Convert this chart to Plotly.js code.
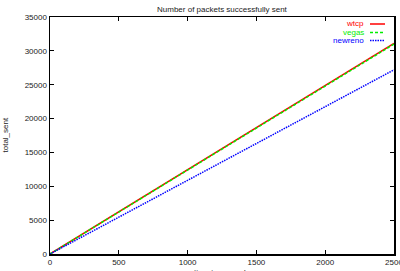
<!DOCTYPE html>
<html>
<head>
<meta charset="utf-8">
<script src="https://cdn.plot.ly/plotly-3.0.1.min.js"></script>
<style>html,body{margin:0;padding:0;background:#fff;}#chart{width:400px;height:271px;}</style>
</head>
<body>
<div id="chart"></div>
<script>
const timeSec = [0, 500, 1000, 1500, 2000, 2500];
const wtcp = [0, 6220, 12440, 18660, 24880, 31100];
const vegas = [0, 6200, 12400, 18600, 24800, 31000];
const newreno = [0, 5440, 10880, 16320, 21760, 27200];
const seriesNames = ['wtcp', 'vegas', 'newreno'];
const seriesColors = ['#ff0000', '#00ee00', '#0000ff'];
const seriesDash = ['solid', '3px,2px', '1.5px,1px'];
const xTicks = [0, 500, 1000, 1500, 2000, 2500];
const xTickText = ['0', '500', '1000', '1500', '2000', '2500'];
const yTicks = [0, 5000, 10000, 15000, 20000, 25000, 30000, 35000];
const yTickText = ['0', '5000', '10000', '15000', '20000', '25000', '30000', '35000'];

const font = {family: 'Liberation Sans, Arial, sans-serif', size: 8, color: '#222'};
const vals = [wtcp, vegas, newreno];
const traces = [];
for (let i = 0; i < 3; i++) {
  traces.push({x: timeSec, y: vals[i], type: 'scatter', mode: 'lines', name: seriesNames[i],
    line: {color: seriesColors[i], width: 1.5, dash: seriesDash[i]}, showlegend: false, cliponaxis: true});
}
const annotations = [
  {text: 'Number of packets successfully sent', xref: 'paper', yref: 'paper', x: 0.5, y: 1, yanchor: 'middle', yshift: 8, showarrow: false, font: font},
  {text: 'time in seconds', xref: 'paper', yref: 'paper', x: 0.5, y: 0, yshift: -12, yanchor: 'top', showarrow: false, font: font},
  {text: 'total_sent', xref: 'paper', yref: 'paper', x: 0, y: 0.5, xshift: -45, xanchor: 'center', textangle: -90, showarrow: false, font: font}
];
const shapes = [];
const legendY = [24, 32.5, 40.5];
for (let i = 0; i < 3; i++) {
  const yp = 1 - (legendY[i] - 17) / 237;
  annotations.push({text: seriesNames[i], xref: 'paper', yref: 'paper', x: (366 - 50) / 344, y: yp,
    xanchor: 'right', yanchor: 'middle', showarrow: false, font: {family: font.family, size: 8, color: seriesColors[i]}});
  shapes.push({type: 'line', xref: 'paper', yref: 'paper', x0: (370 - 50) / 344, x1: (385 - 50) / 344, y0: yp, y1: yp,
    line: {color: seriesColors[i], width: 1.5, dash: seriesDash[i]}});
}
const layout = {
  width: 400, height: 271,
  margin: {l: 50, r: 6, t: 17, b: 17},
  paper_bgcolor: '#fff', plot_bgcolor: '#fff',
  font: font,
  showlegend: false,
  xaxis: {range: [0, 2500], tickvals: xTicks, ticktext: xTickText, ticks: 'inside', ticklen: 4, tickcolor: '#000',
    showline: true, linecolor: '#000', linewidth: 1.5, mirror: 'ticks', showgrid: false, zeroline: false,
    tickfont: font, ticklabeloverflow: 'allow', automargin: false},
  yaxis: {range: [0, 35000], tickvals: yTicks, ticktext: yTickText, ticks: 'inside', ticklen: 4, tickcolor: '#000',
    showline: true, linecolor: '#000', linewidth: 1.5, mirror: 'ticks', showgrid: false, zeroline: false,
    tickfont: font, ticklabeloverflow: 'allow', automargin: false},
  annotations: annotations,
  shapes: shapes
};
Plotly.newPlot('chart', traces, layout, {displayModeBar: false, staticPlot: true});
</script>
</body>
</html>
